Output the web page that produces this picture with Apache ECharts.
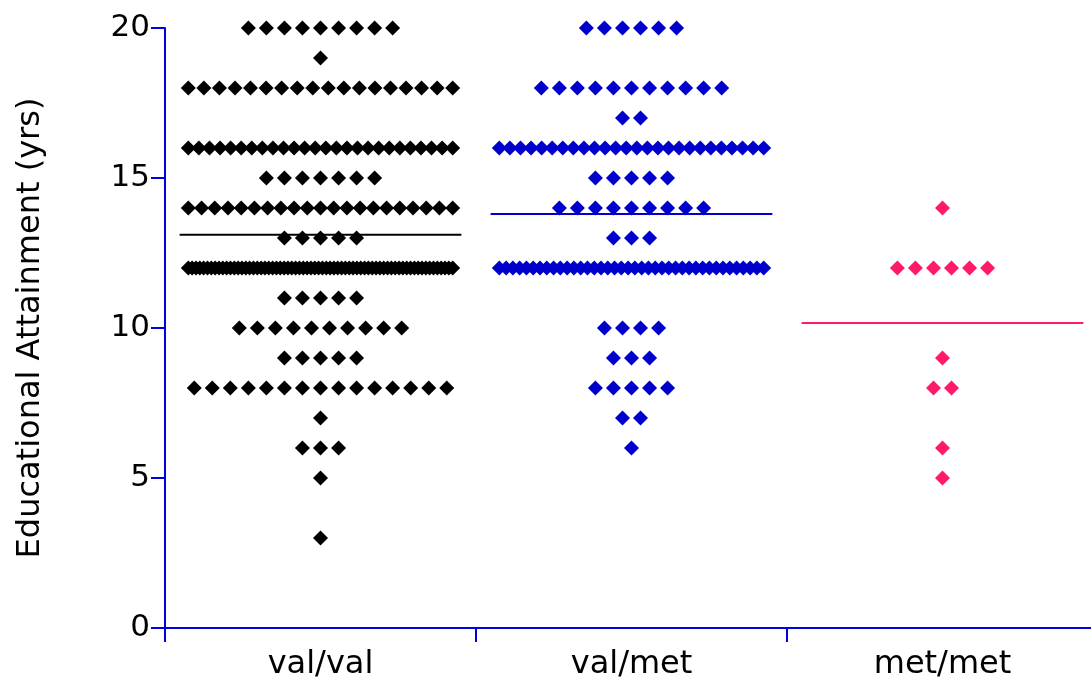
<!DOCTYPE html>
<html>
<head>
<meta charset="utf-8">
<script src="https://cdn.jsdelivr.net/npm/echarts@6/dist/echarts.min.js"></script>
<style>
html,body{margin:0;padding:0;background:#fff;overflow:hidden;}
#chart{width:1098px;height:681px;}
</style>
</head>
<body>
<div id="chart"></div>
<script>
// ---- data ----
const categories = ['val/val', 'val/met', 'met/met'];
const yTicks = [0, 5, 10, 15, 20];

// years of education and number of subjects at each value
const valvalYears  = [20, 19, 18, 16, 15, 14, 13, 12, 11, 10, 9, 8, 7, 6, 5, 3];
const valvalCounts = [ 9,  1, 18, 26,  7, 21,  5, 70,  5, 10, 5, 15, 1, 3, 1, 1];

const valmetYears  = [20, 18, 17, 16, 15, 14, 13, 12, 10, 9, 8, 7, 6];
const valmetCounts = [ 6, 11,  2, 26,  5,  9,  3, 40,  4, 3, 5, 2, 1];

const metmetYears  = [14, 12, 9, 8, 6, 5];
const metmetCounts = [ 1,  6, 1, 2, 1, 1];

const colors = ['#000000', '#0000CC', '#FF1A6C'];
const axisColor = '#0000E0';

// ---- layout helpers (spread points of equal value side by side) ----
const maxStep = 0.058;   // category-width units
const maxSpan = 0.85;
function swarm(years, counts, cat) {
  const pts = [];
  years.forEach((y, i) => {
    const n = counts[i];
    const step = n > 1 ? Math.min(maxStep, maxSpan / (n - 1)) : 0;
    for (let j = 0; j < n; j++) pts.push([cat + (j - (n - 1) / 2) * step, y]);
  });
  return pts;
}
function mean(years, counts) {
  let s = 0, n = 0;
  years.forEach((y, i) => { s += y * counts[i]; n += counts[i]; });
  return s / n;
}
const groups = [[valvalYears, valvalCounts], [valmetYears, valmetCounts], [metmetYears, metmetCounts]];
const halfLine = 0.453;

const series = [];
groups.forEach((g, k) => {
  series.push({
    type: 'scatter', xAxisIndex: 1, yAxisIndex: 0,
    symbol: 'diamond', symbolSize: 15,
    itemStyle: { color: colors[k], opacity: 1 },
    data: swarm(g[0], g[1], k),
    silent: true, z: 3
  });
  const m = mean(g[0], g[1]);
  series.push({
    type: 'line', xAxisIndex: 1, yAxisIndex: 0,
    symbol: 'none',
    lineStyle: { color: colors[k], width: 2 },
    data: [[k - halfLine, m], [k + halfLine, m]],
    silent: true, z: 2
  });
});

const font = 'DejaVu Sans';
const chart = echarts.init(document.getElementById('chart'), null, { renderer: 'canvas' });
chart.setOption({
  animation: false,
  backgroundColor: '#ffffff',
  textStyle: { fontFamily: font },
  grid: { left: 165, top: 28, right: 0, bottom: 53, containLabel: false },
  xAxis: [
    {
      type: 'category', data: categories, boundaryGap: true,
      axisLine: { show: true, onZero: false, lineStyle: { color: axisColor, width: 2 } },
      axisTick: { show: true, length: 14, lineStyle: { color: axisColor, width: 2 } },
      axisLabel: { color: '#000', fontSize: 32, margin: 21, fontFamily: font },
      splitLine: { show: false }
    },
    {
      type: 'value', min: -0.5, max: 2.5, show: false,
      axisLine: { onZero: false }
    }
  ],
  yAxis: [{
    type: 'value', min: yTicks[0], max: yTicks[yTicks.length - 1], interval: 5,
    name: 'Educational Attainment (yrs)', nameLocation: 'middle', nameGap: 118,
    nameTextStyle: { color: '#000', fontSize: 32, fontFamily: font },
    axisLine: { show: true, onZero: false, lineStyle: { color: axisColor, width: 2 } },
    axisTick: { show: true, length: 14, lineStyle: { color: axisColor, width: 2 } },
    axisLabel: { color: '#000', fontSize: 31, margin: 15, fontFamily: font },
    splitLine: { show: false }
  }],
  series: series
});
</script>
</body>
</html>
